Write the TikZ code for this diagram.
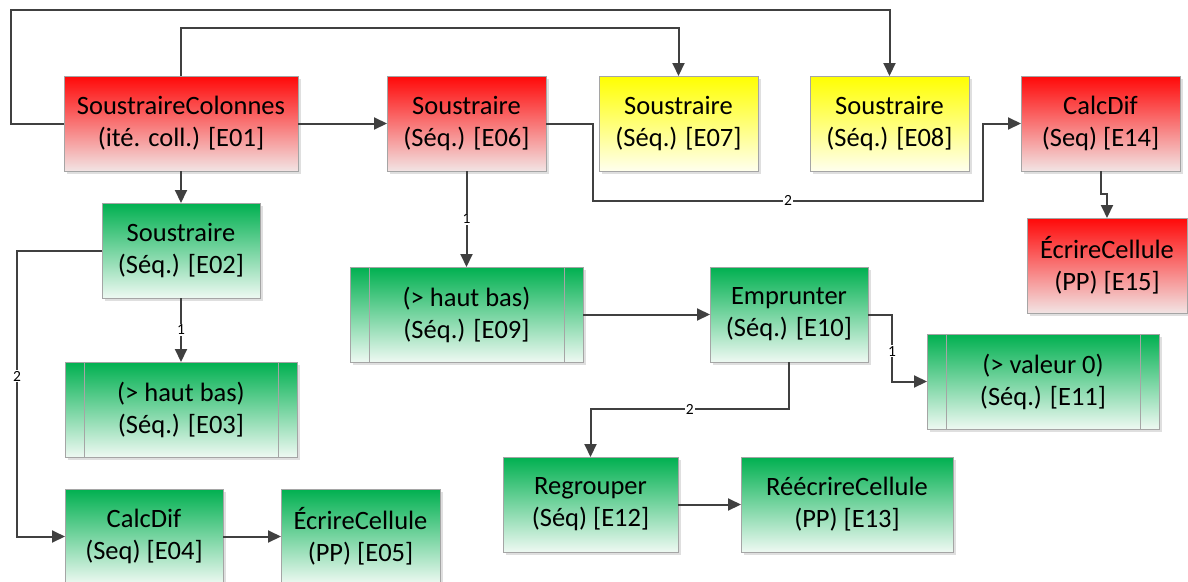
\documentclass[tikz,border=0pt]{standalone}
\usepackage{fontspec}
\setmainfont{Carlito}
\usetikzlibrary{arrows.meta,shadows,calc}
\definecolor{lnc}{RGB}{64,64,64}
\definecolor{bordc}{RGB}{165,165,165}
\definecolor{redtop}{RGB}{255,8,8}
\definecolor{redbot}{RGB}{242,228,228}
\definecolor{greentop}{RGB}{0,176,80}
\definecolor{greenbot}{RGB}{238,249,242}
\definecolor{yeltop}{RGB}{255,255,0}
\definecolor{yelbot}{RGB}{255,255,238}
\tikzset{
  box/.style={draw=bordc, line width=0.8pt, inner sep=0pt, outer sep=0pt,
    align=center, anchor=north west, minimum height=95pt, text=black,
    font=\fontsize{26.5}{32}\selectfont,
    drop shadow={opacity=0.25, shadow xshift=2.5pt, shadow yshift=-2.5pt, fill=gray}},
  redbox/.style={box, top color=redtop, bottom color=redbot},
  greenbox/.style={box, top color=greentop, bottom color=greenbot},
  yellowbox/.style={box, top color=yeltop, bottom color=yelbot},
  conn/.style={draw=lnc, line width=2pt, line join=miter, -{Triangle[length=13pt,width=12pt]}},
  lbl/.style={fill=white, inner sep=1pt, text=black, font=\fontsize{15.5}{15.5}\selectfont},
  inner/.style={draw=bordc, line width=0.8pt}
}
\begin{document}
\begin{tikzpicture}[x=1pt,y=-1pt]
\useasboundingbox (0,0) rectangle (1188,581);
% nodes
\node[redbox, minimum width=234pt] (E01) at (64,76) {SoustraireColonnes\\(ité. coll.) [E01]};
\node[redbox, minimum width=159pt] (E06) at (387,76) {Soustraire\\(Séq.) [E06]};
\node[yellowbox, minimum width=159pt] (E07) at (599,76) {Soustraire\\(Séq.) [E07]};
\node[yellowbox, minimum width=159pt] (E08) at (810,76) {Soustraire\\(Séq.) [E08]};
\node[redbox, minimum width=159pt] (E14) at (1021,76) {CalcDif\\(Seq) [E14]};
\node[redbox, minimum width=160pt] (E15) at (1027,218) {ÉcrireCellule\\(PP) [E15]};
\node[greenbox, minimum width=158pt] (E02) at (102,203) {Soustraire\\(Séq.) [E02]};
\node[greenbox, minimum width=232pt] (E03) at (65,362) {(> haut bas)\\(Séq.) [E03]};
\node[greenbox, minimum width=158pt] (E04) at (65,489) {CalcDif\\(Seq) [E04]};
\node[greenbox, minimum width=159pt] (E05) at (281,489) {ÉcrireCellule\\(PP) [E05]};
\node[greenbox, minimum width=233pt] (E09) at (350,267) {(> haut bas)\\(Séq.) [E09]};
\node[greenbox, minimum width=158pt] (E10) at (710,267) {Emprunter\\(Séq.) [E10]};
\node[greenbox, minimum width=232pt] (E11) at (927,334) {(> valeur 0)\\(Séq.) [E11]};
\node[greenbox, minimum width=175pt] (E12) at (503,457) {Regrouper\\(Séq) [E12]};
\node[greenbox, minimum width=212pt] (E13) at (741,457) {RéécrireCellule\\(PP) [E13]};
% inner lines of predefined processes
\foreach \n in {E03,E09,E11} {
  \draw[inner] ([xshift=19pt]\n.north west) -- ([xshift=19pt]\n.south west);
  \draw[inner] ([xshift=-19pt]\n.north east) -- ([xshift=-19pt]\n.south east);
}
% connectors
\draw[conn] (E01.west) -- ++(-53,0) |- ($(E08.north)+(0,-66)$) -- (E08.north);
\draw[conn] (E01.north) -- ++(0,-48) -| (E07.north);
\draw[conn] (E01.east) -- (E06.west);
\draw[conn] (E01.south) -- (E02.north);
\draw[conn] (E06.east) -- ++(47,0) -- ++(0,77) -- node[lbl]{2} ++(390,0) |- (E14.west);
\draw[conn] (E06.south) -- node[lbl]{1} (E09.north);
\draw[conn] (E14.south) -- ++(0,23) -| (E15.north);
\draw[conn] (E02.west) -- ++(-85,0) -- node[lbl, pos=0.44]{2} ($(E04.west)+(-48,0)$) -- (E04.west);
\draw[conn] (E02.south) -- node[lbl]{1} (E03.north);
\draw[conn] (E04.east) -- (E05.west);
\draw[conn] (E09.east) -- (E10.west);
\draw[conn] (E10.east) -- ++(24,0) -- node[lbl, pos=0.55]{1} ($(E11.west)+(-35,0)$) -- (E11.west);
\draw[conn] (E10.south) -- ++(0,47) -| node[lbl, pos=0.25]{2} (E12.north);
\draw[conn] (E12.east) -- (E13.west);
\end{tikzpicture}
\end{document}
